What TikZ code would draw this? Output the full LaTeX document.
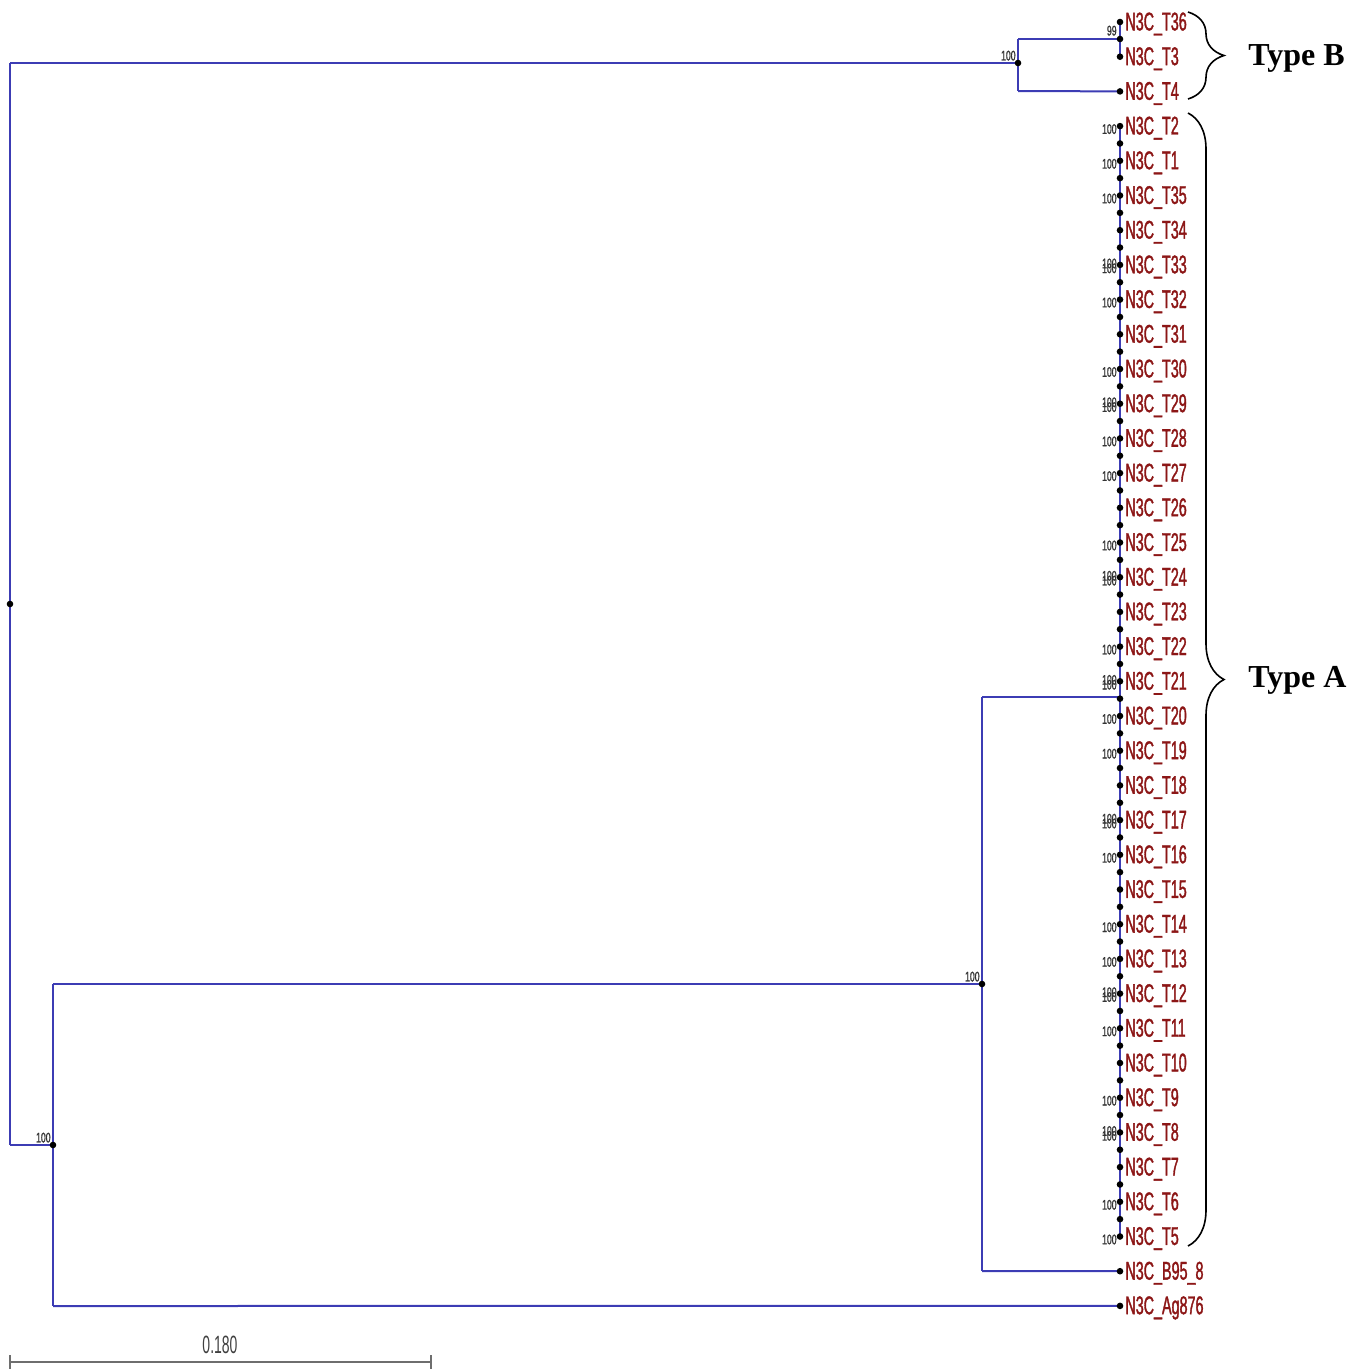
\documentclass[tikz,border=0pt]{standalone}
\usepackage{fontspec}
\usetikzlibrary{decorations.pathreplacing}
\newfontfamily\tipfont[FakeStretch=0.56,FakeBold=1.3]{Liberation Sans}
\newfontfamily\bsfont[FakeStretch=0.62,FakeBold=1]{Liberation Sans}
\newfontfamily\sbfont[FakeStretch=0.56]{Liberation Sans}
\newfontfamily\typefont{Liberation Serif}
\definecolor{branch}{RGB}{60,60,180}
\definecolor{tipred}{RGB}{140,22,22}
\definecolor{bargray}{RGB}{110,110,110}
\begin{document}
\begin{tikzpicture}[x=0.5pt,y=-0.5pt,
  br/.style={draw=branch,line width=1pt},
  dotm/.style={circle,fill=black,inner sep=0pt,minimum size=3.3pt},
  tiplab/.style={anchor=west,inner sep=0pt,text=tipred,font=\tipfont\fontsize{12.8}{12.8}\selectfont},
  bslab/.style={anchor=east,inner sep=0pt,text=black!80,align=right,font=\bsfont\fontsize{7}{7}\selectfont},
  typelab/.style={anchor=west,inner sep=0pt,font=\typefont\bfseries\fontsize{16}{16}\selectfont},
  bracem/.style={draw=black,line width=0.8pt,decorate,decoration={brace,amplitude=18pt}}]
\useasboundingbox (0,0) rectangle (1362,1372);
% tip labels
\foreach \lab [count=\i from 0] in {N3C\_T36,N3C\_T3,N3C\_T4,N3C\_T2,N3C\_T1,N3C\_T35,N3C\_T34,N3C\_T33,N3C\_T32,N3C\_T31,N3C\_T30,N3C\_T29,N3C\_T28,N3C\_T27,N3C\_T26,N3C\_T25,N3C\_T24,N3C\_T23,N3C\_T22,N3C\_T21,N3C\_T20,N3C\_T19,N3C\_T18,N3C\_T17,N3C\_T16,N3C\_T15,N3C\_T14,N3C\_T13,N3C\_T12,N3C\_T11,N3C\_T10,N3C\_T9,N3C\_T8,N3C\_T7,N3C\_T6,N3C\_T5,N3C\_B95\_8,N3C\_Ag876}{
  \coordinate (d\i) at (1120,{22+\i*34.7});
  \node[tiplab] (tip\i) at (1125,{24+\i*34.7}) {\lab};
}
% internal coordinates
\coordinate (rtop) at (10,63);
\coordinate (rbot) at (10,1145);
\coordinate (rmid) at (10,604);
\coordinate (nB) at (1018,63);
\coordinate (nBtop) at (1018,39);
\coordinate (nBbot) at (1018,91);
\coordinate (n36) at (1120,39);
\coordinate (nO) at (53,1145);
\coordinate (nOtop) at (53,984);
\coordinate (nObot) at (53,1306);
\coordinate (nA) at (982,984);
\coordinate (nAtop) at (982,697);
\coordinate (nAbot) at (982,1271);
\coordinate (cA) at (1120,697);
% branches
\draw[br] (rtop) -- (rbot);
\draw[br] (rtop) -- (nB);
\draw[br] (nBtop) -- (nBbot);
\draw[br] (nBtop) -- (n36);
\draw[br] (nBbot) -- (d2);
\draw[br] (d0) -- (d1);
\draw[br] (rbot) -- (nO);
\draw[br] (nOtop) -- (nObot);
\draw[br] (nOtop) -- (nA);
\draw[br] (nObot) -- (d37);
\draw[br] (nAtop) -- (nAbot);
\draw[br] (nAtop) -- (cA);
\draw[br] (nAbot) -- (d36);
\draw[br] (d3) -- (d35);
% dots
\foreach \i in {0,...,37}{\node[dotm] at (d\i) {};}
\foreach \i in {3,...,34}{\node[dotm] at (1120,{22+(\i+0.5)*34.7}) {};}
\foreach \c in {rmid,nB,n36,nO,nA}{\node[dotm] at (\c) {};}
% bootstrap labels
\node[bslab,anchor=south east] (bs99) at (1117,36) {99};
\node[bslab,anchor=south east] (bsB) at (1016,61) {100};
\node[bslab,anchor=south east] (bsA) at (980,982) {100};
\node[bslab,anchor=south east] (bsO) at (51,1143) {100};
\foreach \v [count=\k from 3] in {1,1,1,0,2,1,0,1,2,1,1,0,1,2,0,1,2,1,1,0,2,1,0,1,1,2,1,0,1,2,0,1,1}{
  \ifnum\v=1 \node[bslab] at (1117,{25+\k*34.7}) {100};\fi
  \ifnum\v=2 \node[bslab] at (1117,{23+\k*34.7}) {100\\[-4.6pt]100};\fi
}
% braces and type labels
\coordinate (bBt) at (1188,12);
\coordinate (bBb) at (1188,99);
\coordinate (bAt) at (1188,113);
\coordinate (bAb) at (1188,1246);
\draw[bracem] (bBt) -- (bBb);
\draw[bracem] (bAt) -- (bAb);
\node[typelab] (typeB) at (1248,58) {Type B};
\node[typelab] (typeA) at (1248,680) {Type A};
% scale bar
\coordinate (sl) at (10,1362);
\coordinate (sr) at (431,1362);
\draw[bargray,line width=1.3pt] (sl) -- (sr);
\draw[bargray,line width=0.8pt] ([yshift=3.5pt]sl) -- ([yshift=-3.5pt]sl);
\draw[bargray,line width=0.8pt] ([yshift=3.5pt]sr) -- ([yshift=-3.5pt]sr);
\node[inner sep=0pt,text=black!75,font=\sbfont\fontsize{12.5}{12.5}\selectfont] (sbl) at (220,1345) {0.180};
\end{tikzpicture}
\end{document}
